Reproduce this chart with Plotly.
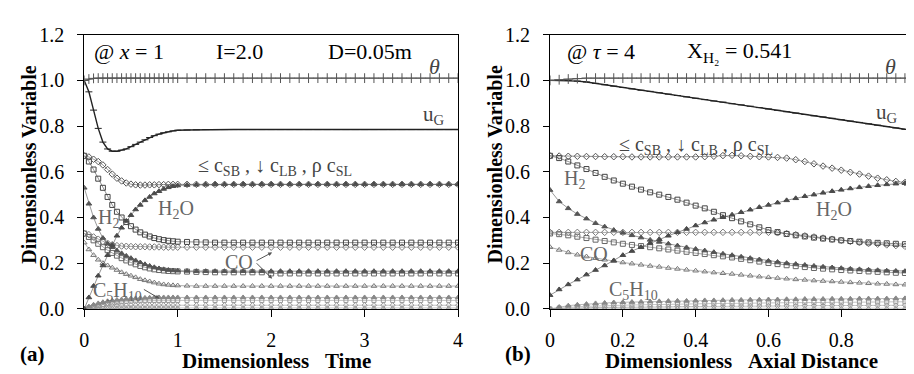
import plotly.graph_objects as go

# ---------------- Panel (a): @ x = 1, vs dimensionless time ----------------
t_a = [0.0, 0.05, 0.1, 0.15, 0.2, 0.25, 0.3, 0.35, 0.4, 0.45, 0.5, 0.55, 0.6, 0.65, 0.7, 0.75, 0.8, 0.85, 0.9, 0.95, 1.0,
       1.1, 1.2, 1.3, 1.4, 1.5, 1.6, 1.7, 1.8, 1.9, 2.0, 2.1, 2.2, 2.3, 2.4, 2.5, 2.6, 2.7, 2.8, 2.9, 3.0,
       3.1, 3.2, 3.3, 3.4, 3.5, 3.6, 3.7, 3.8, 3.9, 4.0]

theta_a = [1.0, 1.006, 1.009, 1.01, 1.01, 1.01, 1.01, 1.01, 1.01, 1.01, 1.01, 1.01, 1.01, 1.01, 1.01, 1.01, 1.01, 1.01, 1.01, 1.01, 1.01,
           1.01, 1.01, 1.01, 1.01, 1.01, 1.01, 1.01, 1.01, 1.01, 1.01, 1.01, 1.01, 1.01, 1.01, 1.01, 1.01, 1.01, 1.01, 1.01, 1.01,
           1.01, 1.01, 1.01, 1.01, 1.01, 1.01, 1.01, 1.01, 1.01, 1.01]
ug_a = [1.0, 0.95, 0.87, 0.79, 0.73, 0.70, 0.69, 0.69, 0.695, 0.70, 0.71, 0.72, 0.73, 0.74, 0.75, 0.758, 0.765, 0.771, 0.775, 0.779, 0.782,
        0.783, 0.784, 0.785, 0.785, 0.785, 0.785, 0.785, 0.785, 0.785, 0.785, 0.785, 0.785, 0.785, 0.785, 0.785, 0.785, 0.785, 0.785, 0.785, 0.785,
        0.785, 0.785, 0.785, 0.785, 0.785, 0.785, 0.785, 0.785, 0.785, 0.785]
solid_a = [0.67, 0.665, 0.655, 0.645, 0.63, 0.61, 0.59, 0.572, 0.56, 0.551, 0.546, 0.543, 0.542, 0.542, 0.543, 0.543, 0.544, 0.544, 0.545, 0.545, 0.545,
           0.545, 0.545, 0.545, 0.545, 0.545, 0.545, 0.545, 0.545, 0.545, 0.545, 0.545, 0.545, 0.545, 0.545, 0.545, 0.545, 0.545, 0.545, 0.545, 0.545,
           0.545, 0.545, 0.545, 0.545, 0.545, 0.545, 0.545, 0.545, 0.545, 0.545]
h2o_a = [0.0, 0.05, 0.10, 0.145, 0.19, 0.235, 0.28, 0.32, 0.355, 0.385, 0.41, 0.435, 0.455, 0.475, 0.49, 0.505, 0.515, 0.525, 0.532, 0.537, 0.54,
         0.542, 0.543, 0.544, 0.545, 0.545, 0.545, 0.545, 0.545, 0.545, 0.545, 0.545, 0.545, 0.545, 0.545, 0.545, 0.545, 0.545, 0.545, 0.545, 0.545,
         0.545, 0.545, 0.545, 0.545, 0.545, 0.545, 0.545, 0.545, 0.545, 0.545]
h2_a = [0.67, 0.645, 0.61, 0.57, 0.53, 0.49, 0.455, 0.425, 0.40, 0.38, 0.362, 0.347, 0.335, 0.325, 0.317, 0.31, 0.305, 0.301, 0.298, 0.296, 0.294,
        0.293, 0.292, 0.291, 0.29, 0.29, 0.29, 0.29, 0.29, 0.29, 0.29, 0.29, 0.29, 0.29, 0.29, 0.29, 0.29, 0.29, 0.29, 0.29, 0.29,
        0.29, 0.29, 0.29, 0.29, 0.29, 0.29, 0.29, 0.29, 0.29, 0.29]
co_a = [0.53, 0.46, 0.40, 0.35, 0.31, 0.285, 0.27, 0.255, 0.243, 0.232, 0.222, 0.212, 0.203, 0.195, 0.188, 0.182, 0.177, 0.173, 0.17, 0.168, 0.167,
        0.166, 0.165, 0.165, 0.165, 0.165, 0.165, 0.165, 0.165, 0.165, 0.165, 0.165, 0.165, 0.165, 0.165, 0.165, 0.165, 0.165, 0.165, 0.165, 0.165,
        0.165, 0.165, 0.165, 0.165, 0.165, 0.165, 0.165, 0.165, 0.165, 0.165]
dia2_a = [0.33, 0.325, 0.315, 0.305, 0.295, 0.287, 0.281, 0.277, 0.275, 0.274, 0.273, 0.272, 0.272, 0.272, 0.271, 0.271, 0.271, 0.27, 0.27, 0.27, 0.27,
          0.27, 0.27, 0.27, 0.27, 0.27, 0.27, 0.27, 0.27, 0.27, 0.27, 0.27, 0.27, 0.27, 0.27, 0.27, 0.27, 0.27, 0.27, 0.27, 0.27,
          0.27, 0.27, 0.27, 0.27, 0.27, 0.27, 0.27, 0.27, 0.27, 0.27]
sq2_a = [0.33, 0.315, 0.30, 0.285, 0.27, 0.257, 0.245, 0.233, 0.222, 0.212, 0.203, 0.195, 0.188, 0.182, 0.177, 0.173, 0.17, 0.168, 0.166, 0.165, 0.164,
         0.163, 0.162, 0.161, 0.16, 0.16, 0.16, 0.16, 0.16, 0.16, 0.155, 0.155, 0.155, 0.155, 0.155, 0.155, 0.155, 0.155, 0.155, 0.155, 0.155,
         0.155, 0.155, 0.155, 0.155, 0.155, 0.155, 0.155, 0.155, 0.155, 0.155]
tri3_a = [0.29, 0.26, 0.235, 0.215, 0.2, 0.19, 0.18, 0.17, 0.16, 0.152, 0.145, 0.138, 0.13, 0.125, 0.12, 0.115, 0.11, 0.107, 0.105, 0.103, 0.102,
          0.101, 0.1, 0.1, 0.1, 0.1, 0.1, 0.1, 0.1, 0.1, 0.1, 0.1, 0.1, 0.1, 0.1, 0.1, 0.1, 0.1, 0.1, 0.1, 0.1,
          0.1, 0.1, 0.1, 0.1, 0.1, 0.1, 0.1, 0.1, 0.1, 0.1]
c5h10_a = [0.0, 0.01, 0.018, 0.024, 0.029, 0.033, 0.036, 0.039, 0.041, 0.043, 0.045, 0.046, 0.047, 0.048, 0.049, 0.05, 0.05, 0.05, 0.05, 0.05, 0.05,
           0.05, 0.05, 0.05, 0.05, 0.05, 0.05, 0.05, 0.05, 0.05, 0.05, 0.05, 0.05, 0.05, 0.05, 0.05, 0.05, 0.05, 0.05, 0.05, 0.05,
           0.05, 0.05, 0.05, 0.05, 0.05, 0.05, 0.05, 0.05, 0.05, 0.05]
sq3_a = [0.0, 0.005, 0.01, 0.015, 0.019, 0.023, 0.026, 0.029, 0.031, 0.033, 0.034, 0.035, 0.036, 0.036, 0.037, 0.037, 0.037, 0.037, 0.037, 0.037, 0.037,
         0.037, 0.037, 0.037, 0.037, 0.037, 0.037, 0.037, 0.037, 0.037, 0.037, 0.037, 0.037, 0.037, 0.037, 0.037, 0.037, 0.037, 0.037, 0.037, 0.037,
         0.037, 0.037, 0.037, 0.037, 0.037, 0.037, 0.037, 0.037, 0.037, 0.037]
dia3_a = [0.0, 0.003, 0.006, 0.008, 0.01, 0.012, 0.013, 0.014, 0.015, 0.015, 0.016, 0.016, 0.016, 0.016, 0.016, 0.016, 0.016, 0.016, 0.016, 0.016, 0.016,
          0.016, 0.016, 0.016, 0.016, 0.016, 0.016, 0.016, 0.016, 0.016, 0.016, 0.016, 0.016, 0.016, 0.016, 0.016, 0.016, 0.016, 0.016, 0.016, 0.016,
          0.016, 0.016, 0.016, 0.016, 0.016, 0.016, 0.016, 0.016, 0.016, 0.016]
low_a = [0.0, 0.002, 0.003, 0.004, 0.004, 0.004, 0.004, 0.004, 0.004, 0.004, 0.004, 0.004, 0.004, 0.004, 0.004, 0.004, 0.004, 0.004, 0.004, 0.004, 0.004,
         0.004, 0.004, 0.004, 0.004, 0.004, 0.004, 0.004, 0.004, 0.004, 0.004, 0.004, 0.004, 0.004, 0.004, 0.004, 0.004, 0.004, 0.004, 0.004, 0.004,
         0.004, 0.004, 0.004, 0.004, 0.004, 0.004, 0.004, 0.004, 0.004, 0.004]

# ---------------- Panel (b): @ tau = 4, vs dimensionless axial distance ----------------
d_b = [0.0, 0.025, 0.05, 0.075, 0.1, 0.125, 0.15, 0.175, 0.2, 0.225, 0.25, 0.275, 0.3, 0.325, 0.35, 0.375, 0.4, 0.425, 0.45, 0.475, 0.5,
       0.525, 0.55, 0.575, 0.6, 0.625, 0.65, 0.675, 0.7, 0.725, 0.75, 0.775, 0.8, 0.825, 0.85, 0.875, 0.9, 0.925, 0.95, 0.975, 1.0]

theta_b = [1.0, 1.003, 1.006, 1.008, 1.01, 1.01, 1.01, 1.01, 1.01, 1.01, 1.01, 1.01, 1.01, 1.01, 1.01, 1.01, 1.01, 1.01, 1.01, 1.01, 1.01,
           1.01, 1.01, 1.01, 1.01, 1.01, 1.01, 1.01, 1.01, 1.01, 1.01, 1.01, 1.01, 1.01, 1.01, 1.01, 1.01, 1.01, 1.01, 1.01, 1.01]
ug_b = [1.0, 1.0, 1.0, 0.997, 0.993, 0.987, 0.981, 0.975, 0.969, 0.963, 0.957, 0.952, 0.946, 0.94, 0.934, 0.928, 0.922, 0.916, 0.91, 0.905, 0.898,
        0.893, 0.887, 0.881, 0.875, 0.869, 0.863, 0.857, 0.851, 0.845, 0.84, 0.834, 0.828, 0.822, 0.816, 0.81, 0.804, 0.798, 0.792, 0.786, 0.782]
solid_b = [0.67, 0.669, 0.668, 0.668, 0.667, 0.667, 0.666, 0.666, 0.666, 0.665, 0.665, 0.665, 0.665, 0.665, 0.665, 0.665, 0.665, 0.666, 0.668, 0.671, 0.672,
           0.67, 0.668, 0.666, 0.665, 0.663, 0.66, 0.653, 0.645, 0.635, 0.625, 0.616, 0.607, 0.598, 0.59, 0.581, 0.572, 0.565, 0.558, 0.553, 0.548]
h2_b = [0.67, 0.66, 0.645, 0.628, 0.612, 0.595, 0.578, 0.562, 0.548, 0.535, 0.522, 0.51, 0.5, 0.49, 0.478, 0.465, 0.452, 0.44, 0.425, 0.41, 0.397,
        0.383, 0.37, 0.357, 0.345, 0.336, 0.328, 0.322, 0.317, 0.312, 0.308, 0.304, 0.30, 0.297, 0.294, 0.291, 0.289, 0.287, 0.285, 0.283, 0.28]
h2o_b = [0.06, 0.085, 0.107, 0.128, 0.15, 0.17, 0.19, 0.212, 0.235, 0.253, 0.27, 0.288, 0.305, 0.32, 0.335, 0.35, 0.365, 0.378, 0.39, 0.401, 0.412,
         0.423, 0.434, 0.445, 0.455, 0.465, 0.475, 0.484, 0.493, 0.5, 0.508, 0.515, 0.521, 0.527, 0.532, 0.537, 0.541, 0.545, 0.548, 0.55, 0.552]
co_b = [0.52, 0.47, 0.44, 0.415, 0.395, 0.375, 0.36, 0.345, 0.333, 0.322, 0.312, 0.302, 0.293, 0.285, 0.277, 0.269, 0.262, 0.255, 0.248, 0.241, 0.235,
        0.228, 0.222, 0.216, 0.21, 0.205, 0.2, 0.196, 0.192, 0.188, 0.184, 0.181, 0.178, 0.175, 0.173, 0.171, 0.169, 0.167, 0.166, 0.165, 0.164]
dia2_b = [0.335, 0.335, 0.335, 0.335, 0.335, 0.335, 0.335, 0.335, 0.335, 0.335, 0.335, 0.335, 0.335, 0.335, 0.335, 0.335, 0.335, 0.335, 0.335, 0.335, 0.335,
          0.335, 0.335, 0.335, 0.335, 0.333, 0.33, 0.325, 0.32, 0.315, 0.31, 0.305, 0.30, 0.295, 0.29, 0.286, 0.283, 0.28, 0.277, 0.274, 0.272]
sq2_b = [0.33, 0.327, 0.322, 0.316, 0.31, 0.303, 0.297, 0.291, 0.285, 0.28, 0.275, 0.27, 0.265, 0.26, 0.255, 0.25, 0.245, 0.24, 0.235, 0.23, 0.225,
         0.219, 0.213, 0.207, 0.201, 0.196, 0.191, 0.187, 0.183, 0.179, 0.176, 0.173, 0.17, 0.168, 0.166, 0.164, 0.162, 0.16, 0.158, 0.157, 0.155]
tri3_b = [0.27, 0.258, 0.247, 0.237, 0.229, 0.222, 0.215, 0.209, 0.203, 0.198, 0.193, 0.188, 0.184, 0.179, 0.175, 0.171, 0.167, 0.163, 0.159, 0.156, 0.153,
          0.149, 0.145, 0.141, 0.138, 0.135, 0.132, 0.129, 0.127, 0.124, 0.122, 0.12, 0.118, 0.116, 0.114, 0.112, 0.11, 0.109, 0.107, 0.106, 0.105]
c5h10_b = [0.0, 0.008, 0.014, 0.018, 0.021, 0.024, 0.026, 0.028, 0.029, 0.03, 0.031, 0.032, 0.033, 0.034, 0.035, 0.035, 0.036, 0.037, 0.037, 0.038, 0.039,
           0.039, 0.04, 0.04, 0.041, 0.041, 0.042, 0.042, 0.043, 0.043, 0.043, 0.044, 0.044, 0.044, 0.045, 0.045, 0.045, 0.045, 0.046, 0.046, 0.046]
sq3_b = [0.0, 0.004, 0.007, 0.009, 0.011, 0.013, 0.014, 0.015, 0.016, 0.017, 0.018, 0.019, 0.02, 0.02, 0.021, 0.022, 0.022, 0.023, 0.023, 0.024, 0.024,
         0.025, 0.025, 0.026, 0.026, 0.026, 0.027, 0.027, 0.028, 0.028, 0.028, 0.029, 0.029, 0.029, 0.03, 0.03, 0.03, 0.03, 0.031, 0.031, 0.031]
dia3_b = [0.0, 0.002, 0.003, 0.004, 0.005, 0.006, 0.006, 0.007, 0.007, 0.008, 0.008, 0.009, 0.009, 0.009, 0.01, 0.01, 0.01, 0.011, 0.011, 0.011, 0.012,
          0.012, 0.012, 0.012, 0.013, 0.013, 0.013, 0.013, 0.014, 0.014, 0.014, 0.014, 0.014, 0.015, 0.015, 0.015, 0.015, 0.015, 0.015, 0.016, 0.016]
low_b = [0.0, 0.001, 0.002, 0.002, 0.003, 0.003, 0.003, 0.003, 0.003, 0.003, 0.003, 0.003, 0.003, 0.003, 0.003, 0.003, 0.003, 0.003, 0.003, 0.003, 0.003,
         0.003, 0.003, 0.003, 0.003, 0.003, 0.003, 0.003, 0.003, 0.003, 0.003, 0.003, 0.003, 0.003, 0.003, 0.003, 0.003, 0.003, 0.003, 0.003, 0.003]

x_ticks_a = [0, 1, 2, 3, 4]
x_ticks_b = [0, 0.2, 0.4, 0.6, 0.8, 1.0]
x_ticktext_b = ["0", "0.2", "0.4", "0.6", "0.8", "1"]
y_ticks = [0.0, 0.2, 0.4, 0.6, 0.8, 1.0, 1.2]

SERIF = "Liberation Serif"
W, H = 914, 374

# style table: (symbol, size, color, line width)
styles = {
    "theta": ("cross-thin-open", 7, "#555555", 1.0),
    "ug": ("line-ew-open", 5, "#222222", 1.4),
    "solid": ("diamond-open", 5, "#555555", 0.6),
    "h2o": ("triangle-up", 5, "#4a4a4a", 0.6),
    "h2": ("square-open", 5, "#444444", 0.6),
    "co": ("triangle-up", 5, "#555555", 0.6),
    "dia2": ("diamond-open", 5, "#777777", 0.6),
    "sq2": ("square-open", 5, "#666666", 0.6),
    "tri3": ("triangle-up-open", 5, "#777777", 0.6),
    "c5h10": ("triangle-up", 5, "#888888", 0.6),
    "sq3": ("square-open", 4, "#999999", 0.6),
    "dia3": ("diamond-open", 4, "#999999", 0.6),
    "low": ("triangle-up-open", 4, "#999999", 0.6),
}

fig = go.Figure()

def add(x, y, key, xa, ya):
    sym, size, col, lw = styles[key]
    fig.add_trace(go.Scatter(
        x=x, y=y, mode="lines+markers", xaxis=xa, yaxis=ya, showlegend=False,
        line=dict(color=col, width=lw),
        marker=dict(symbol=sym, size=size, color=col, line=dict(color=col, width=1)),
        hoverinfo="skip"))

panel_a = [("low", low_a), ("dia3", dia3_a), ("sq3", sq3_a), ("c5h10", c5h10_a), ("tri3", tri3_a),
           ("sq2", sq2_a), ("dia2", dia2_a), ("co", co_a), ("h2", h2_a), ("h2o", h2o_a),
           ("solid", solid_a), ("ug", ug_a), ("theta", theta_a)]
panel_b = [("low", low_b), ("dia3", dia3_b), ("sq3", sq3_b), ("c5h10", c5h10_b), ("tri3", tri3_b),
           ("sq2", sq2_b), ("dia2", dia2_b), ("co", co_b), ("h2", h2_b), ("h2o", h2o_b),
           ("solid", solid_b), ("ug", ug_b), ("theta", theta_b)]
for k, y in panel_a:
    add(t_a, y, k, "x", "y")
for k, y in panel_b:
    add(d_b, y, k, "x2", "y2")

def px(x):
    return x / W

def py(y):
    return 1 - y / H

y_dom = [py(308), py(16.7)]
common_x = dict(showline=True, linecolor="black", linewidth=1, mirror=True, showgrid=False, zeroline=False,
                ticks="outside", ticklen=7, tickcolor="black", tickwidth=1,
                tickfont=dict(family=SERIF, size=20, color="black"), ticklabelstandoff=6)
common_y = dict(showline=True, linecolor="black", linewidth=1, mirror=True, showgrid=False, zeroline=False,
                ticks="outside", ticklen=6, tickcolor="black", tickwidth=1, range=[0, 1.2],
                tickvals=y_ticks, tickformat=".1f",
                tickfont=dict(family=SERIF, size=20, color="black"), ticklabelstandoff=9)

fig.update_layout(
    width=W, height=H, margin=dict(l=0, r=0, t=0, b=0),
    paper_bgcolor="white", plot_bgcolor="white",
    font=dict(family=SERIF),
    xaxis=dict(domain=[px(72), px(450)], range=[0, 4], tickvals=x_ticks_a, anchor="y", **common_x),
    yaxis=dict(domain=y_dom, anchor="x", **common_y),
    xaxis2=dict(domain=[px(543), px(911)], range=[0, 1], tickvals=x_ticks_b, ticktext=x_ticktext_b,
                anchor="y2", **common_x),
    yaxis2=dict(domain=y_dom, anchor="x2", **common_y),
)

def note(text, x, y, size=20, color="black", bold=False, angle=0, **kw):
    if bold:
        text = "<b>" + text + "</b>"
    fig.add_annotation(text=text, x=px(x), y=py(y), xref="paper", yref="paper",
                       showarrow=False, textangle=angle, xanchor="center", yanchor="middle",
                       font=dict(family=SERIF, size=size, color=color), **kw)

def arrow(hx, hy, tx, ty):
    fig.add_annotation(text="", x=px(hx), y=py(hy), xref="paper", yref="paper",
                       showarrow=True, ax=tx - hx, ay=ty - hy, arrowhead=2, arrowsize=0.8,
                       arrowwidth=1, arrowcolor="#555555")

nb = "\u00a0"
legend_txt = ("≤" + nb + "c<sub>SB</sub>" + nb + "," + nb + "↓" + nb + "c<sub>LB</sub>" + nb + ","
              + nb + "ρ" + nb + "c<sub>SL</sub>")
# panel (a) texts
note("@ <i>x</i> = 1", 117, 35, 22)
note("I=2.0", 229, 35, 22)
note("D=0.05m", 361, 35, 22)
note("<i>θ</i>", 426, 50, 22, "#444444")
note("u<sub>G</sub>", 426, 102, 21, "#444444")
note(legend_txt, 265, 157, 20, "#444444")
note("H<sub>2</sub>O", 165, 202, 20, "#666666")
note("H<sub>2</sub>", 97, 212, 20, "#666666")
note("CO", 228, 258, 20, "#666666")
note("C<sub>5</sub>H<sub>10</sub>", 106, 290, 20, "#666666")
arrow(262, 248, 245, 257)
arrow(262, 276, 245, 259)
arrow(148, 297, 131, 287)
note("(a)", 20, 356, 21, bold=True)
note("Dimensionless" + nb * 3 + "Time", 266, 363, 21, bold=True)
note("Dimensionless Variable", 16, 155, 20, bold=True, angle=-90)

# panel (b) texts
note("@ <i>τ</i> = 4", 595, 35, 22)
note("X<sub>H₂</sub> = 0.541", 735, 35, 22)
note("<i>θ</i>", 887, 50, 22, "#444444")
note("u<sub>G</sub>", 884, 100, 21, "#444444")
note(legend_txt, 691, 134, 20, "#444444")
note("H<sub>2</sub>", 568, 170, 20, "#666666")
note("H<sub>2</sub>O", 830, 203, 20, "#666666")
note("CO", 587, 250, 20, "#666666")
note("C<sub>5</sub>H<sub>10</sub>", 627, 288, 20, "#666666")
note("(b)", 511, 356, 21, bold=True)
note("Dimensionless" + nb * 3 + "Axial Distance", 737, 363, 21, bold=True)
note("Dimensionless Variable", 487, 155, 20, bold=True, angle=-90)

fig.write_html("out.html")
